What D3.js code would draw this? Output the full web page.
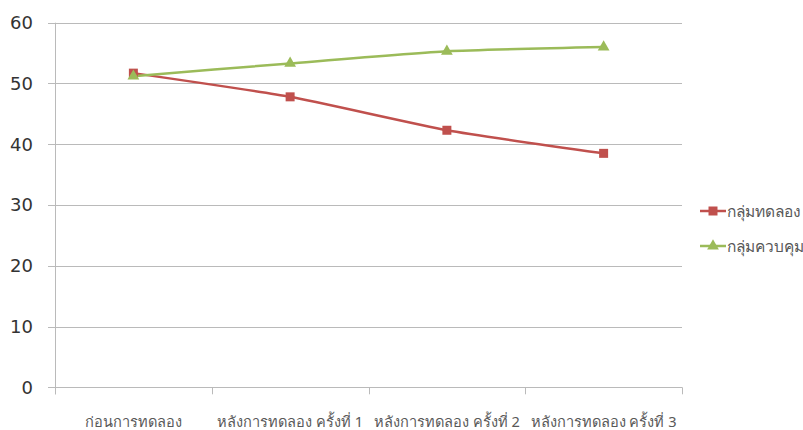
<!DOCTYPE html>
<html><head><meta charset="utf-8">
<script src="https://cdn.jsdelivr.net/npm/d3@7"></script>
<style>body{margin:0;background:#fff}svg{display:block}</style>
</head><body>
<svg id="c" width="803" height="430"></svg>
<script>
const categories = ["ก่อนการทดลอง", "หลังการทดลอง ครั้งที่ 1", "หลังการทดลอง ครั้งที่ 2", "หลังการทดลอง ครั้งที่ 3"];
const seriesNames = ["กลุ่มทดลอง", "กลุ่มควบคุม"];
const experimental = [51.7, 47.8, 42.3, 38.5];
const control = [51.2, 53.3, 55.3, 56.0];
const yTicks = [0, 10, 20, 30, 40, 50, 60];
const colors = ["#C0504D", "#9BBB59"];

(function () {
const svg = d3.select("#c");
const pl = 55, pr = 682, pt = 22.7, pb = 387.3;
const x = d3.scaleBand().domain(categories).range([pl, pr]).padding(0);
const y = d3.scaleLinear().domain([0, 60]).range([pb, pt]);

// gridlines
svg.append("g").selectAll("line").data(yTicks).join("line")
  .attr("x1", pl - 7).attr("x2", pr)
  .attr("y1", d => Math.round(y(d)) + 0.5).attr("y2", d => Math.round(y(d)) + 0.5)
  .attr("stroke", "#BABABA").attr("stroke-width", 1);

// y axis line
svg.append("line").attr("x1", pl + 0.5).attr("x2", pl + 0.5).attr("y1", pt).attr("y2", pb + 7)
  .attr("stroke", "#BABABA");

// x tick marks (between categories)
const bounds = categories.map(c => x(c)).concat([pr]);
svg.append("g").selectAll("line").data(bounds).join("line")
  .attr("x1", d => Math.round(d) + 0.5).attr("x2", d => Math.round(d) + 0.5).attr("y1", pb).attr("y2", pb + 7)
  .attr("stroke", "#BABABA");

// y labels
svg.append("g").selectAll("text").data(yTicks).join("text")
  .attr("x", 33).attr("y", d => y(d)).attr("dy", "0.36em")
  .attr("text-anchor", "end").attr("font-family", "DejaVu Sans, sans-serif")
  .attr("font-size", 18).attr("fill", "#333").text(d => d);

// x labels
svg.append("g").selectAll("text").data(categories).join("text")
  .attr("x", d => x(d) + x.bandwidth() / 2).attr("y", 427)
  .attr("text-anchor", "middle").attr("font-family", "Noto Sans, sans-serif")
  .attr("font-size", 14.6).attr("fill", "#595959").text(d => d);

const cx = c => x(c) + x.bandwidth() / 2;
const line = d3.line().x((d, i) => cx(categories[i])).y(d => y(d)).curve(d3.curveCardinal.tension(0.5));
const series = [experimental, control];

series.forEach((vals, si) => {
  svg.append("path").datum(vals).attr("d", line).attr("fill", "none")
    .attr("stroke", colors[si]).attr("stroke-width", 2.5);
});
// markers
const sq = d3.symbol().type(d3.symbolSquare).size(81);
const tri = d3.symbol().type(d3.symbolTriangle).size(60);
svg.append("g").selectAll("path").data(experimental).join("path")
  .attr("d", sq).attr("transform", (d, i) => `translate(${cx(categories[i])},${y(d)})`)
  .attr("fill", colors[0]);
svg.append("g").selectAll("path").data(control).join("path")
  .attr("d", tri).attr("transform", (d, i) => `translate(${cx(categories[i])},${y(d)})`)
  .attr("fill", colors[1]);

// legend
const lg = svg.append("g");
const ly = [211, 246];
seriesNames.forEach((n, i) => {
  lg.append("line").attr("x1", 700).attr("x2", 726).attr("y1", ly[i]).attr("y2", ly[i])
    .attr("stroke", colors[i]).attr("stroke-width", 2.5);
  lg.append("path").attr("d", i === 0 ? sq : tri).attr("transform", `translate(713,${ly[i]})`).attr("fill", colors[i]);
  lg.append("text").attr("x", 727).attr("y", ly[i]).attr("dy", "0.36em")
    .attr("font-family", "Noto Sans, sans-serif").attr("font-size", 15.5).attr("fill", "#595959").text(n);
});
})();
</script>
</body></html>
